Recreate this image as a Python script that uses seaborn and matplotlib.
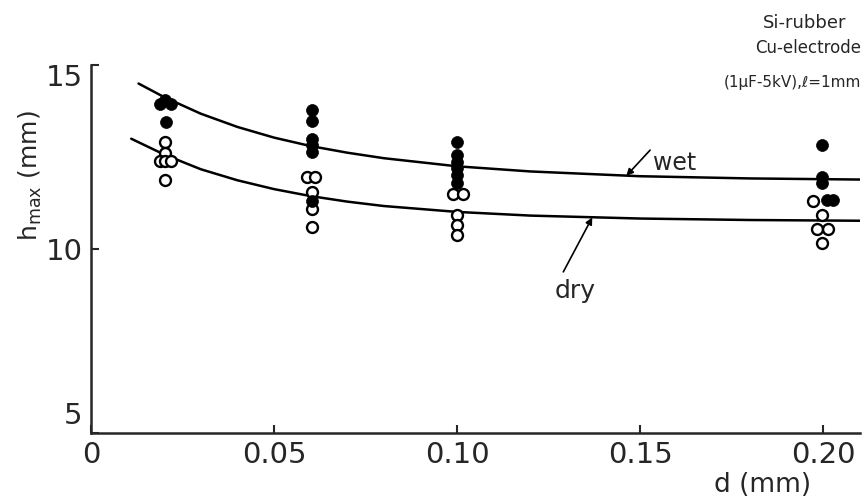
import numpy as np
import pandas as pd
import matplotlib
matplotlib.use("Agg")
import matplotlib.pyplot as plt
import matplotlib.transforms as mtransforms
import seaborn as sns

# measured points (filled = wet, open = dry)
wet_d = [0.0189, 0.0202, 0.0219, 0.0205,
         0.0604, 0.0604, 0.0604, 0.0604, 0.0604, 0.0604,
         0.1000, 0.1000, 0.1000, 0.1000, 0.1000, 0.1000,
         0.1997, 0.1997, 0.1997, 0.2011, 0.2027]
wet_h = [13.95, 14.05, 13.95, 13.45,
         13.78, 13.48, 12.99, 12.83, 12.64, 11.32,
         12.90, 12.55, 12.37, 12.20, 12.00, 11.80,
         12.83, 11.96, 11.79, 11.33, 11.33]

dry_d = [0.0202, 0.0202, 0.0189, 0.0202, 0.0219, 0.0202,
         0.0590, 0.0612, 0.0604, 0.0604, 0.0604,
         0.0989, 0.1016, 0.1000, 0.1000, 0.1000,
         0.1973, 0.1997, 0.1984, 0.2014, 0.1997]
dry_h = [12.90, 12.60, 12.40, 12.40, 12.40, 11.87,
         11.96, 11.96, 11.55, 11.09, 10.60,
         11.50, 11.50, 10.92, 10.65, 10.38,
         11.30, 10.92, 10.54, 10.54, 10.16]

# hand-drawn fitted curves
wet_curve_d = [0.013, 0.02, 0.03, 0.04, 0.05, 0.06, 0.07, 0.08, 0.10, 0.12, 0.15, 0.18, 0.21]
wet_curve_h = [14.50, 14.13, 13.68, 13.32, 13.03, 12.80, 12.62, 12.47, 12.25, 12.11, 11.98, 11.92, 11.89]
dry_curve_d = [0.011, 0.02, 0.03, 0.04, 0.05, 0.06, 0.07, 0.08, 0.10, 0.12, 0.15, 0.18, 0.21]
dry_curve_h = [13.00, 12.57, 12.17, 11.87, 11.63, 11.44, 11.29, 11.17, 11.01, 10.91, 10.83, 10.79, 10.77]

x_ticks = [0, 0.05, 0.10, 0.15, 0.20]
x_tick_labels = ["0", "0.05", "0.10", "0.15", "0.20"]
y_ticks = [5, 10, 15]
y_tick_labels = ["5", "10", "15"]

sns.set_style("ticks")
plt.rcParams["font.family"] = ["DejaVu Sans"]

fig = plt.figure(figsize=(8.66, 5.01), dpi=100)
ax = fig.add_axes([0.105, 0.1357, 0.888, 0.7343])

sns.lineplot(x=wet_curve_d, y=wet_curve_h, ax=ax, color="black", linewidth=1.8, sort=False)
sns.lineplot(x=dry_curve_d, y=dry_curve_h, ax=ax, color="black", linewidth=1.8, sort=False)

sns.scatterplot(x=dry_d, y=dry_h, ax=ax, facecolor="white", edgecolor="black",
                linewidth=1.7, s=62, zorder=3)
sns.scatterplot(x=wet_d, y=wet_h, ax=ax, color="black", edgecolor="black",
                linewidth=0.5, s=74, zorder=4)

ax.set_xlim(0, 0.21)
ax.set_ylim(5, 15)
ax.set_xticks(x_ticks)
ax.set_xticklabels(x_tick_labels, fontsize=21)
ax.set_yticks(y_ticks)
ax.set_yticklabels(y_tick_labels, fontsize=21)
ax.tick_params(direction="in", length=6, width=1.5, pad=6)
for side in ["top", "right"]:
    ax.spines[side].set_visible(False)
for side in ["left", "bottom"]:
    ax.spines[side].set_linewidth(1.8)

# nudge corner labels like the original
ylabs = ax.get_yticklabels()
ylabs[0].set_transform(ylabs[0].get_transform() + mtransforms.ScaledTranslation(0, 0.2, fig.dpi_scale_trans))
ylabs[2].set_transform(ylabs[2].get_transform() + mtransforms.ScaledTranslation(0, -0.1, fig.dpi_scale_trans))

ax.set_xlabel("")
ax.set_ylabel("")
fig.text(0.88, 0.005, "d (mm)", fontsize=19, ha="center", va="bottom")
fig.text(0.035, 0.65, r"h$_{\mathregular{max}}$ (mm)", fontsize=18, rotation=90,
         ha="center", va="center")

# curve labels with pointer lines
arrow = dict(arrowstyle="-|>", color="black", lw=1.2, mutation_scale=10, shrinkA=0, shrinkB=0)
ax.text(0.1535, 12.34, "wet", fontsize=17, ha="left", va="center")
ax.annotate("", xy=(0.1462, 11.99), xytext=(0.1527, 12.69), arrowprops=arrow)
ax.text(0.1322, 8.86, "dry", fontsize=18, ha="center", va="center")
ax.annotate("", xy=(0.1369, 10.86), xytext=(0.1290, 9.38), arrowprops=arrow)

fig.text(0.881, 0.955, "Si-rubber", fontsize=13, ha="left", va="center")
fig.text(0.872, 0.905, "Cu-electrode", fontsize=12, ha="left", va="center")
fig.text(0.994, 0.835, "(1\u03bcF-5kV),\u2113=1mm", fontsize=11, ha="right", va="center")

fig.savefig("out.png", dpi=100)
